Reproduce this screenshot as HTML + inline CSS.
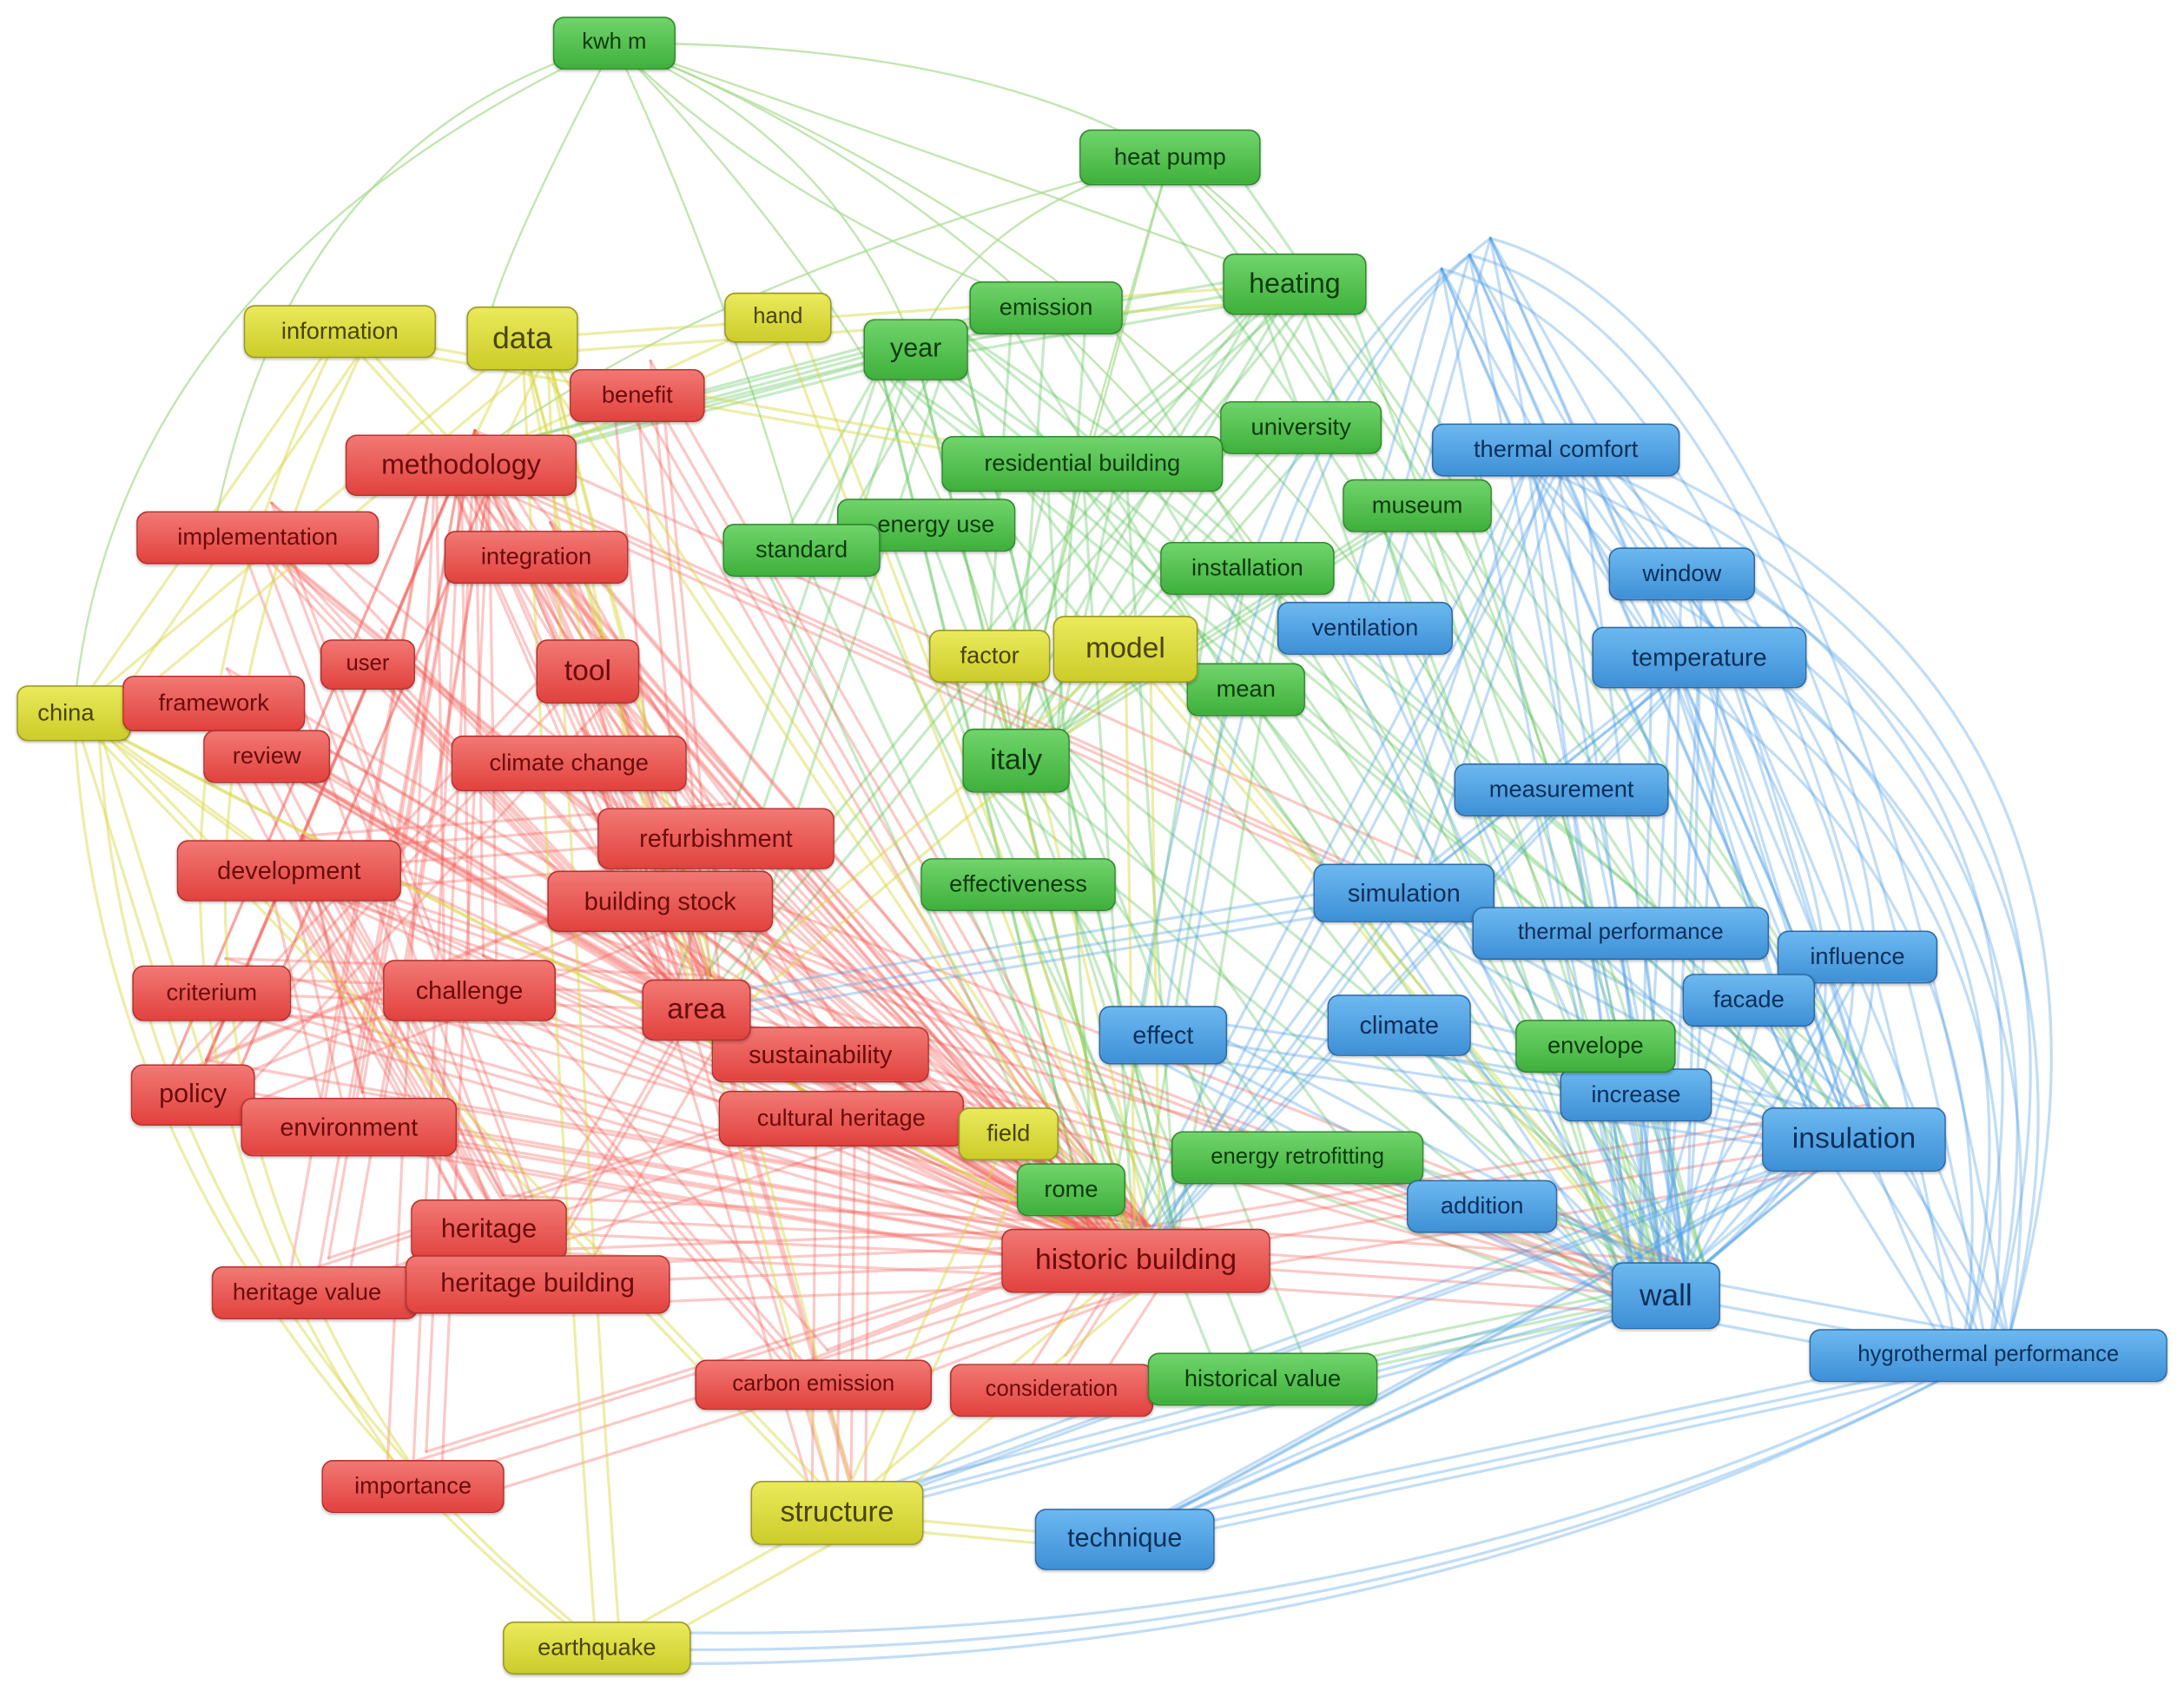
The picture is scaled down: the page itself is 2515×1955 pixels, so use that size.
<!DOCTYPE html>
<html><head><meta charset="utf-8">
<style>
html,body{margin:0;padding:0;background:#fff;}
body{width:2515px;height:1955px;overflow:hidden;position:relative;}
#w{position:absolute;left:0;top:0;width:1568px;height:1219px;transform:scale(1.604);transform-origin:0 0;}
svg{position:absolute;left:0;top:0;}
.n{position:absolute;display:flex;align-items:center;justify-content:center;box-sizing:border-box;border-radius:8px;white-space:nowrap;font-family:"Liberation Sans",sans-serif;border:1.5px solid;box-shadow:0 1px 2px rgba(0,0,0,.25);overflow:hidden;}
.r{background:linear-gradient(#f27874,#e2423e);border-color:#b8302c;color:#6a0c0a;}
.g{background:linear-gradient(#70d46b,#3fb03c);border-color:#2d8a2a;color:#0c3a0c;}
.b{background:linear-gradient(#6cb8f0,#3e90d6);border-color:#2a6aa8;color:#0a2f5a;}
.y{background:linear-gradient(#eaea5c,#cccc2a);border-color:#999920;color:#4a4400;}
</style></head><body><div id="w">
<svg width="1568" height="1219" viewBox="0 0 1568 1219" fill="none" stroke-linecap="round">
<g stroke="#a8dc90" stroke-opacity=".7" stroke-width="1.5">
<path d="M441 31 Q80 200 53 512"/><path d="M441 31 Q200 100 150 400"/><path d="M441 31 Q700 30 840 113"/>
<path d="M441 31 Q300 300 375 243"/><path d="M441 31 Q600 100 657 251"/><path d="M441 31 Q700 120 929 204"/>
<path d="M441 31 Q560 150 751 221"/><path d="M441 31 Q900 200 1196 930"/><path d="M441 31 Q520 200 575 395"/>
<path d="M441 31 Q700 300 729 546"/><path d="M441 31 Q1000 250 1145 751"/>
<path d="M840 113 Q700 150 657 251"/><path d="M840 113 Q880 150 929 204"/><path d="M840 113 Q800 250 777 333"/>
<path d="M840 113 Q760 400 729 546"/><path d="M840 113 Q1100 300 1196 930"/><path d="M840 113 Q500 200 331 334"/>
</g>
<g id="gg" stroke="#5cc25a" stroke-opacity=".35" stroke-width="2">
<line x1="929" y1="204" x2="657" y2="251"/><line x1="929" y1="204" x2="777" y2="333"/><line x1="929" y1="204" x2="729" y2="546"/>
<line x1="929" y1="204" x2="1196" y2="930"/><line x1="657" y1="251" x2="729" y2="546"/><line x1="657" y1="251" x2="777" y2="333"/>
<line x1="657" y1="251" x2="575" y2="395"/><line x1="657" y1="251" x2="815" y2="905"/><line x1="751" y1="221" x2="729" y2="546"/>
<line x1="777" y1="333" x2="729" y2="546"/><line x1="777" y1="333" x2="815" y2="905"/><line x1="934" y1="307" x2="729" y2="546"/>
<line x1="1017" y1="363" x2="729" y2="546"/><line x1="1017" y1="363" x2="1196" y2="930"/><line x1="665" y1="377" x2="729" y2="546"/>
<line x1="575" y1="395" x2="815" y2="905"/><line x1="895" y1="408" x2="815" y2="905"/><line x1="729" y1="546" x2="815" y2="905"/>
<line x1="729" y1="546" x2="931" y2="831"/><line x1="729" y1="546" x2="906" y2="990"/><line x1="931" y1="831" x2="1196" y2="930"/>
<line x1="894" y1="495" x2="1196" y2="930"/><line x1="1145" y1="751" x2="1196" y2="930"/><line x1="657" y1="251" x2="500" y2="725"/>
<line x1="657" y1="251" x2="331" y2="334"/><line x1="751" y1="221" x2="331" y2="334"/><line x1="929" y1="204" x2="1331" y2="818"/>
<line x1="777" y1="333" x2="1331" y2="818"/><line x1="657" y1="251" x2="1163" y2="670"/><line x1="751" y1="221" x2="1008" y2="641"/>
<line x1="929" y1="204" x2="500" y2="725"/><line x1="840" y1="113" x2="1331" y2="818"/><line x1="657" y1="251" x2="1196" y2="930"/>
<line x1="729" y1="546" x2="1196" y2="930"/><line x1="906" y1="990" x2="1196" y2="930"/><line x1="731" y1="635" x2="815" y2="905"/>
</g>
<use href="#gg" transform="translate(-25,12)"/>
<use href="#gg" transform="translate(30,-15)"/>
<g id="rr" stroke="#f25a56" stroke-opacity=".33" stroke-width="2">
<line x1="331" y1="334" x2="422" y2="482"/><line x1="331" y1="334" x2="207" y2="625"/><line x1="331" y1="334" x2="500" y2="725"/>
<line x1="331" y1="334" x2="815" y2="905"/><line x1="331" y1="334" x2="474" y2="647"/><line x1="331" y1="334" x2="337" y2="711"/>
<line x1="331" y1="334" x2="138" y2="786"/><line x1="331" y1="334" x2="250" y2="809"/><line x1="422" y1="482" x2="514" y2="602"/>
<line x1="422" y1="482" x2="500" y2="725"/><line x1="422" y1="482" x2="815" y2="905"/><line x1="408" y1="548" x2="815" y2="905"/>
<line x1="408" y1="548" x2="500" y2="725"/><line x1="207" y1="625" x2="500" y2="725"/><line x1="207" y1="625" x2="815" y2="905"/>
<line x1="207" y1="625" x2="138" y2="786"/><line x1="207" y1="625" x2="250" y2="809"/><line x1="191" y1="543" x2="500" y2="725"/>
<line x1="153" y1="505" x2="815" y2="905"/><line x1="185" y1="386" x2="815" y2="905"/><line x1="185" y1="386" x2="500" y2="725"/>
<line x1="385" y1="400" x2="815" y2="905"/><line x1="385" y1="400" x2="422" y2="482"/><line x1="514" y1="602" x2="815" y2="905"/>
<line x1="474" y1="647" x2="815" y2="905"/><line x1="337" y1="711" x2="815" y2="905"/><line x1="500" y1="725" x2="815" y2="905"/>
<line x1="500" y1="725" x2="604" y2="803"/><line x1="589" y1="757" x2="815" y2="905"/><line x1="604" y1="803" x2="815" y2="905"/>
<line x1="351" y1="883" x2="815" y2="905"/><line x1="386" y1="922" x2="815" y2="905"/><line x1="226" y1="928" x2="604" y2="803"/>
<line x1="138" y1="786" x2="815" y2="905"/><line x1="250" y1="809" x2="815" y2="905"/><line x1="152" y1="713" x2="500" y2="725"/>
<line x1="296" y1="1067" x2="331" y2="334"/><line x1="296" y1="1067" x2="815" y2="905"/><line x1="584" y1="994" x2="815" y2="905"/>
<line x1="755" y1="998" x2="815" y2="905"/><line x1="457" y1="284" x2="815" y2="905"/><line x1="264" y1="477" x2="500" y2="725"/>
<line x1="351" y1="883" x2="207" y2="625"/><line x1="386" y1="922" x2="500" y2="725"/><line x1="604" y1="803" x2="601" y2="1086"/>
<line x1="815" y1="905" x2="1196" y2="930"/><line x1="815" y1="905" x2="1331" y2="818"/><line x1="500" y1="725" x2="1196" y2="930"/>
<line x1="422" y1="482" x2="601" y2="1086"/><line x1="185" y1="386" x2="386" y2="922"/><line x1="153" y1="505" x2="351" y2="883"/>
<line x1="207" y1="625" x2="386" y2="922"/><line x1="331" y1="334" x2="226" y2="928"/><line x1="422" y1="482" x2="138" y2="786"/>
<line x1="514" y1="602" x2="207" y2="625"/><line x1="474" y1="647" x2="138" y2="786"/><line x1="385" y1="400" x2="589" y2="757"/>
<line x1="457" y1="284" x2="500" y2="725"/><line x1="331" y1="334" x2="1008" y2="641"/><line x1="474" y1="647" x2="1196" y2="930"/>
<line x1="191" y1="543" x2="815" y2="905"/><line x1="152" y1="713" x2="815" y2="905"/><line x1="337" y1="711" x2="584" y2="994"/>
</g>
<use href="#rr" transform="translate(20,15)"/>
<use href="#rr" transform="translate(-18,-12)"/>
<use href="#rr" transform="translate(10,-25)"/>
<g id="bb" stroke="#4d9fe6" stroke-opacity=".35" stroke-width="2">
<line x1="1117" y1="323" x2="1196" y2="930"/><line x1="1117" y1="323" x2="1331" y2="818"/><line x1="1117" y1="323" x2="1220" y2="472"/>
<line x1="1207" y1="412" x2="1196" y2="930"/><line x1="1207" y1="412" x2="1331" y2="818"/><line x1="1220" y1="472" x2="1196" y2="930"/>
<line x1="1220" y1="472" x2="1331" y2="818"/><line x1="1220" y1="472" x2="1427" y2="973"/><line x1="1121" y1="567" x2="1196" y2="930"/>
<line x1="1008" y1="641" x2="1196" y2="930"/><line x1="1008" y1="641" x2="1331" y2="818"/><line x1="1163" y1="670" x2="1196" y2="930"/>
<line x1="1333" y1="687" x2="1196" y2="930"/><line x1="1255" y1="718" x2="1196" y2="930"/><line x1="1004" y1="736" x2="1196" y2="930"/>
<line x1="1174" y1="786" x2="1196" y2="930"/><line x1="1331" y1="818" x2="1196" y2="930"/><line x1="1331" y1="818" x2="1427" y2="973"/>
<line x1="1196" y1="930" x2="1427" y2="973"/><line x1="1196" y1="930" x2="807" y2="1105"/><line x1="807" y1="1105" x2="1331" y2="818"/>
<line x1="835" y1="743" x2="1196" y2="930"/><line x1="980" y1="451" x2="1196" y2="930"/><line x1="1064" y1="866" x2="1196" y2="930"/>
<line x1="1117" y1="323" x2="815" y2="905"/><line x1="1008" y1="641" x2="815" y2="905"/><line x1="1220" y1="472" x2="815" y2="905"/>
<line x1="1196" y1="930" x2="601" y2="1086"/><line x1="1331" y1="818" x2="601" y2="1086"/><line x1="1427" y1="973" x2="807" y2="1105"/>
<line x1="1008" y1="641" x2="500" y2="725"/><line x1="1220" y1="472" x2="1008" y2="641"/><line x1="1117" y1="323" x2="1008" y2="641"/>
<line x1="835" y1="743" x2="1331" y2="818"/><line x1="1004" y1="736" x2="1331" y2="818"/><line x1="1163" y1="670" x2="1331" y2="818"/>
<path d="M1055 183 L1196 930"/><path d="M1055 183 L1331 818"/><path d="M1055 183 Q1300 250 1427 973"/><path d="M1055 183 L980 451"/>
<path d="M1055 183 L1117 323"/><path d="M1055 183 L1220 472"/><path d="M1055 183 Q900 300 835 743"/>
<path d="M1117 323 Q1560 500 1427 973"/><path d="M1207 412 Q1520 600 1427 973"/><path d="M1220 472 Q1480 650 1427 973"/>
<path d="M1117 323 Q1500 700 1196 930"/><path d="M1427 973 Q1000 1200 428 1183"/>
</g>
<use href="#bb" transform="translate(-20,10)"/>
<use href="#bb" transform="translate(15,-12)"/>
<g id="yy" stroke="#d8d840" stroke-opacity=".45" stroke-width="2">
<line x1="375" y1="243" x2="331" y2="334"/><line x1="375" y1="243" x2="815" y2="905"/><line x1="375" y1="243" x2="422" y2="482"/>
<line x1="375" y1="243" x2="500" y2="725"/><line x1="375" y1="243" x2="53" y2="512"/><line x1="244" y1="238" x2="331" y2="334"/>
<line x1="244" y1="238" x2="53" y2="512"/><line x1="53" y1="512" x2="815" y2="905"/><line x1="53" y1="512" x2="207" y2="625"/>
<line x1="53" y1="512" x2="138" y2="786"/><line x1="601" y1="1086" x2="815" y2="905"/><line x1="601" y1="1086" x2="428" y2="1183"/>
<line x1="601" y1="1086" x2="807" y2="1105"/><line x1="808" y1="466" x2="815" y2="905"/><line x1="808" y1="466" x2="1196" y2="930"/>
<line x1="710" y1="471" x2="815" y2="905"/><line x1="558" y1="228" x2="815" y2="905"/><line x1="724" y1="814" x2="601" y2="1086"/>
<line x1="53" y1="512" x2="601" y2="1086"/><line x1="375" y1="243" x2="601" y2="1086"/><line x1="375" y1="243" x2="929" y2="204"/>
<line x1="244" y1="238" x2="777" y2="333"/><line x1="558" y1="228" x2="331" y2="334"/><line x1="808" y1="466" x2="500" y2="725"/>
<path d="M53 512 Q70 900 428 1183"/><path d="M428 1183 Q400 800 375 243"/><path d="M244 238 Q20 700 296 1067"/>
</g>
<use href="#yy" transform="translate(18,10)"/>
</svg>
<div class="n g" style="left:397px;top:12px;width:88px;height:38px;font-size:16px">kwh m</div>
<div class="n g" style="left:775px;top:93px;width:130px;height:40px;font-size:17px">heat pump</div>
<div class="n g" style="left:878px;top:182px;width:103px;height:44px;font-size:20px">heating</div>
<div class="n g" style="left:696px;top:202px;width:110px;height:38px;font-size:17px">emission</div>
<div class="n g" style="left:620px;top:229px;width:75px;height:44px;font-size:19px">year</div>
<div class="n y" style="left:520px;top:210px;width:77px;height:36px;font-size:16px">hand</div>
<div class="n y" style="left:175px;top:219px;width:138px;height:38px;font-size:17px">information</div>
<div class="n y" style="left:335px;top:220px;width:80px;height:46px;font-size:22px">data</div>
<div class="n r" style="left:409px;top:265px;width:97px;height:38px;font-size:17px">benefit</div>
<div class="n g" style="left:876px;top:288px;width:116px;height:38px;font-size:17px">university</div>
<div class="n g" style="left:676px;top:313px;width:202px;height:40px;font-size:17px">residential building</div>
<div class="n b" style="left:1028px;top:304px;width:178px;height:38px;font-size:17px">thermal comfort</div>
<div class="n r" style="left:248px;top:312px;width:166px;height:44px;font-size:20px">methodology</div>
<div class="n g" style="left:964px;top:344px;width:107px;height:38px;font-size:17px">museum</div>
<div class="n g" style="left:601px;top:358px;width:128px;height:38px;font-size:17px;justify-content:flex-end;padding-right:14px">energy use</div>
<div class="n g" style="left:519px;top:376px;width:113px;height:38px;font-size:17px">standard</div>
<div class="n r" style="left:98px;top:367px;width:174px;height:38px;font-size:17px">implementation</div>
<div class="n r" style="left:319px;top:381px;width:132px;height:38px;font-size:17px">integration</div>
<div class="n g" style="left:833px;top:389px;width:125px;height:38px;font-size:17px">installation</div>
<div class="n b" style="left:1155px;top:393px;width:105px;height:38px;font-size:17px">window</div>
<div class="n b" style="left:917px;top:432px;width:126px;height:38px;font-size:17px">ventilation</div>
<div class="n r" style="left:230px;top:459px;width:68px;height:36px;font-size:16px">user</div>
<div class="n r" style="left:385px;top:459px;width:74px;height:46px;font-size:21px">tool</div>
<div class="n y" style="left:667px;top:452px;width:87px;height:38px;font-size:17px">factor</div>
<div class="n g" style="left:852px;top:476px;width:85px;height:38px;font-size:17px">mean</div>
<div class="n y" style="left:756px;top:442px;width:104px;height:48px;font-size:21px">model</div>
<div class="n b" style="left:1143px;top:450px;width:154px;height:44px;font-size:18px">temperature</div>
<div class="n y" style="left:12px;top:492px;width:82px;height:40px;font-size:17px;justify-content:flex-start;padding-left:14px">china</div>
<div class="n r" style="left:88px;top:485px;width:131px;height:40px;font-size:17px">framework</div>
<div class="n r" style="left:146px;top:524px;width:91px;height:38px;font-size:17px">review</div>
<div class="n r" style="left:324px;top:528px;width:169px;height:40px;font-size:17px">climate change</div>
<div class="n g" style="left:691px;top:523px;width:77px;height:46px;font-size:21px">italy</div>
<div class="n b" style="left:1044px;top:548px;width:154px;height:38px;font-size:17px">measurement</div>
<div class="n r" style="left:429px;top:580px;width:170px;height:44px;font-size:18px">refurbishment</div>
<div class="n r" style="left:127px;top:603px;width:161px;height:44px;font-size:18px">development</div>
<div class="n r" style="left:393px;top:625px;width:162px;height:44px;font-size:18px">building stock</div>
<div class="n g" style="left:661px;top:616px;width:140px;height:38px;font-size:17px">effectiveness</div>
<div class="n b" style="left:943px;top:620px;width:130px;height:42px;font-size:18px">simulation</div>
<div class="n b" style="left:1057px;top:651px;width:213px;height:38px;font-size:16px">thermal performance</div>
<div class="n b" style="left:1276px;top:668px;width:115px;height:38px;font-size:17px">influence</div>
<div class="n r" style="left:95px;top:693px;width:114px;height:40px;font-size:17px">criterium</div>
<div class="n r" style="left:275px;top:689px;width:124px;height:44px;font-size:18px">challenge</div>
<div class="n b" style="left:1208px;top:699px;width:95px;height:38px;font-size:17px">facade</div>
<div class="n b" style="left:789px;top:722px;width:92px;height:42px;font-size:18px">effect</div>
<div class="n b" style="left:953px;top:714px;width:103px;height:44px;font-size:18px">climate</div>
<div class="n b" style="left:1120px;top:767px;width:109px;height:38px;font-size:17px">increase</div>
<div class="n g" style="left:1088px;top:732px;width:115px;height:38px;font-size:17px">envelope</div>
<div class="n r" style="left:511px;top:737px;width:156px;height:40px;font-size:18px">sustainability</div>
<div class="n r" style="left:461px;top:703px;width:78px;height:44px;font-size:21px">area</div>
<div class="n r" style="left:94px;top:764px;width:89px;height:44px;font-size:19px">policy</div>
<div class="n r" style="left:173px;top:788px;width:155px;height:42px;font-size:18px">environment</div>
<div class="n r" style="left:516px;top:783px;width:176px;height:40px;font-size:17px">cultural heritage</div>
<div class="n y" style="left:688px;top:795px;width:72px;height:38px;font-size:17px">field</div>
<div class="n b" style="left:1265px;top:795px;width:132px;height:46px;font-size:21px">insulation</div>
<div class="n g" style="left:841px;top:812px;width:181px;height:38px;font-size:16px">energy retrofitting</div>
<div class="n b" style="left:1010px;top:847px;width:108px;height:38px;font-size:17px">addition</div>
<div class="n g" style="left:730px;top:835px;width:78px;height:38px;font-size:17px">rome</div>
<div class="n r" style="left:152px;top:909px;width:148px;height:38px;font-size:17px;justify-content:flex-start;padding-left:14px">heritage value</div>
<div class="n r" style="left:295px;top:861px;width:112px;height:44px;font-size:19px">heritage</div>
<div class="n r" style="left:291px;top:901px;width:190px;height:42px;font-size:19px">heritage building</div>
<div class="n r" style="left:719px;top:882px;width:193px;height:46px;font-size:21px">historic building</div>
<div class="n b" style="left:1157px;top:906px;width:78px;height:48px;font-size:22px">wall</div>
<div class="n b" style="left:1299px;top:954px;width:257px;height:38px;font-size:16px">hygrothermal performance</div>
<div class="n r" style="left:499px;top:976px;width:170px;height:36px;font-size:16px">carbon emission</div>
<div class="n r" style="left:682px;top:979px;width:146px;height:38px;font-size:16px">consideration</div>
<div class="n g" style="left:824px;top:971px;width:165px;height:38px;font-size:17px">historical value</div>
<div class="n r" style="left:231px;top:1048px;width:131px;height:38px;font-size:17px">importance</div>
<div class="n y" style="left:539px;top:1063px;width:124px;height:46px;font-size:21px">structure</div>
<div class="n b" style="left:743px;top:1083px;width:129px;height:44px;font-size:19px">technique</div>
<div class="n y" style="left:361px;top:1164px;width:135px;height:38px;font-size:17px">earthquake</div>
</div></body></html>
